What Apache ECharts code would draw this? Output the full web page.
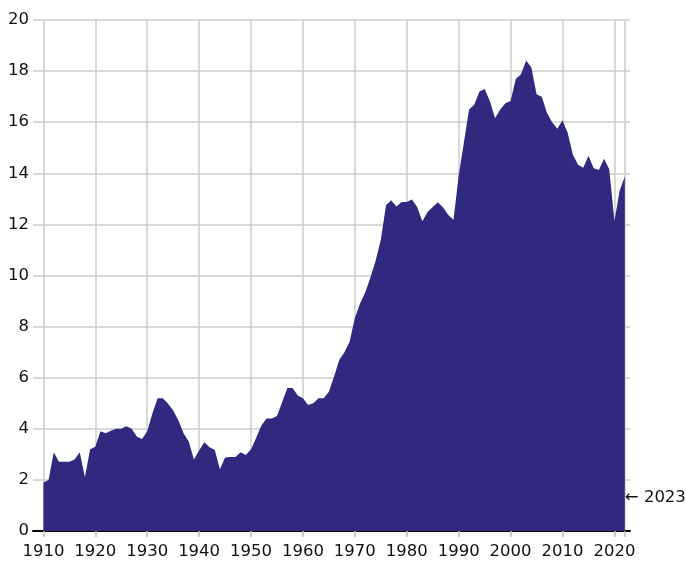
<!DOCTYPE html>
<html>
<head>
<meta charset="utf-8">
<script src="https://cdn.jsdelivr.net/npm/echarts@6/dist/echarts.min.js"></script>
<style>
  html, body { margin: 0; padding: 0; background: #fff; }
  #chart { width: 686px; height: 562px; }
</style>
</head>
<body>
<div id="chart"></div>
<script>
// yearly values, 1910 .. 2022
const firstYear = 1910;
const values = [
  1.9, 2.0, 3.08, 2.71, 2.71, 2.71, 2.8, 3.08, 2.1, 3.2,        // 1910s
  3.3, 3.9, 3.83, 3.92, 4.0, 4.0, 4.1, 4.0, 3.7, 3.6,           // 1920s
  3.9, 4.6, 5.2, 5.2, 4.99, 4.72, 4.33, 3.83, 3.5, 2.8,         // 1930s
  3.15, 3.47, 3.28, 3.18, 2.42, 2.88, 2.9, 2.9, 3.08, 2.97,     // 1940s
  3.2, 3.65, 4.13, 4.4, 4.4, 4.5, 5.05, 5.6, 5.6, 5.3,          // 1950s
  5.2, 4.93, 5.0, 5.2, 5.2, 5.45, 6.05, 6.7, 7.0, 7.42,         // 1960s
  8.34, 8.9, 9.33, 9.92, 10.58, 11.4, 12.75, 12.95, 12.7, 12.88, // 1970s
  12.88, 12.97, 12.68, 12.12, 12.49, 12.68, 12.87, 12.66, 12.37, 12.18, // 1980s
  13.9, 15.2, 16.5, 16.68, 17.2, 17.3, 16.83, 16.15, 16.5, 16.74, // 1990s
  16.83, 17.69, 17.88, 18.41, 18.14, 17.09, 17.0, 16.37, 16.0, 15.74, // 2000s
  16.08, 15.58, 14.73, 14.33, 14.22, 14.69, 14.2, 14.13, 14.57, 14.16, // 2010s
  12.13, 13.32, 13.87                                           // 2020s
];
const xTicks = [1910, 1920, 1930, 1940, 1950, 1960, 1970, 1980, 1990, 2000, 2010, 2020, 2022];
const xLabels = [1910, 1920, 1930, 1940, 1950, 1960, 1970, 1980, 1990, 2000, 2010, 2020];
const endNote = { year: 2022, value: 1.3, text: '\u2190 2023' };

const font = '"DejaVu Sans", sans-serif';
const gridColor = '#cccccc';

const chart = echarts.init(document.getElementById('chart'), null, { renderer: 'canvas' });

chart.setOption({
  animation: false,
  grid: { left: 33, right: 56, top: 20, bottom: 31 },
  xAxis: {
    type: 'value',
    min: 1908,
    max: 2023,
    axisLine: { show: true, onZero: true, lineStyle: { color: '#000', width: 2 } },
    axisTick: { show: true, customValues: xTicks, length: 6, lineStyle: { color: '#bbbbbb', width: 1.5 } },
    axisLabel: {
      customValues: xLabels,
      color: '#111',
      fontSize: 16.5,
      fontFamily: font,
      margin: 12,
      formatter: v => String(v)
    },
    splitLine: { show: true, lineStyle: { color: gridColor, width: 1.5 } }
  },
  yAxis: {
    type: 'value',
    min: 0,
    max: 20,
    interval: 2,
    axisLine: { show: false },
    axisTick: { show: false },
    axisLabel: { color: '#111', fontSize: 16.5, fontFamily: font, margin: 4 },
    splitLine: { show: true, lineStyle: { color: gridColor, width: 1.5 } }
  },
  series: [{
    type: 'line',
    data: values.map((v, i) => [firstYear + i, v]),
    symbol: 'none',
    lineStyle: { width: 0 },
    areaStyle: { color: '#312880', opacity: 1 },
    markPoint: {
      symbol: 'circle',
      symbolSize: 0,
      silent: true,
      data: [{
        coord: [endNote.year, endNote.value],
        label: {
          show: true,
          position: 'right',
          distance: 0,
          formatter: endNote.text,
          color: '#111',
          fontSize: 16.5,
          fontFamily: font
        }
      }]
    }
  }]
});
</script>
</body>
</html>
